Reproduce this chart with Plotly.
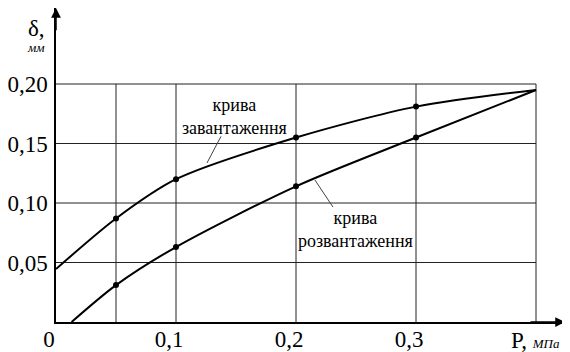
import plotly.graph_objects as go

# Data
load_p = [0.0, 0.05, 0.1, 0.2, 0.3, 0.4]
load_d = [0.0445, 0.087, 0.120, 0.155, 0.181, 0.195]
unload_p = [0.013, 0.05, 0.1, 0.2, 0.3, 0.4]
unload_d = [0.0, 0.031, 0.063, 0.114, 0.155, 0.195]
marker_p = [0.05, 0.1, 0.2, 0.3]
load_marker_d = [0.087, 0.120, 0.155, 0.181]
unload_marker_d = [0.031, 0.063, 0.114, 0.155]

x_grid = [0.05, 0.1, 0.2, 0.3, 0.4]
y_grid = [0.05, 0.10, 0.15, 0.20]
x_tickvals = [0, 0.1, 0.2, 0.3]
x_ticktext = ["0", "0,1", "0,2", "0,3"]
y_tickvals = [0.05, 0.10, 0.15, 0.20]
y_ticktext = ["0,05", "0,10", "0,15", "0,20"]

FONT = "'Liberation Serif', 'DejaVu Serif', serif"

# page body has an 8px margin, so the figure is offset by (8, 8)
OFF = 8
W, H = 570 - OFF, 352 - OFF
ML, MR, MT, MB = 48, 5, 0, 30
PW, PH = W - ML - MR, H - MT - MB
XMAX = 0.4 * PW / 480
YMAX = 0.2 * PH / 238


def px(sx):
    return (sx - OFF - ML) / PW


def py(sy):
    return (H - MB - (sy - OFF)) / PH


fig = go.Figure()
for xs, ys in [(load_p, load_d), (unload_p, unload_d)]:
    fig.add_trace(go.Scatter(x=xs, y=ys, mode="lines",
                             line=dict(color="black", width=2, shape="spline", smoothing=0.8),
                             hoverinfo="skip", showlegend=False))
for ys in [load_marker_d, unload_marker_d]:
    fig.add_trace(go.Scatter(x=marker_p, y=ys, mode="markers",
                             marker=dict(color="black", size=6),
                             hoverinfo="skip", showlegend=False))

shapes = []
for gx in x_grid:
    shapes.append(dict(type="line", xref="x", yref="y", x0=gx, x1=gx, y0=0, y1=max(y_grid),
                       line=dict(color="#222", width=1), layer="below"))
for gy in y_grid:
    shapes.append(dict(type="line", xref="x", yref="y", x0=0, x1=max(x_grid), y0=gy, y1=gy,
                       line=dict(color="#222", width=1), layer="below"))
# leader lines for the curve labels
shapes.append(dict(type="line", xref="x", yref="y", x0=0.1375, y0=0.156, x1=0.1258, y1=0.1336,
                   line=dict(color="#444", width=1)))
shapes.append(dict(type="line", xref="x", yref="y", x0=0.2158, y0=0.1193, x1=0.2308, y1=0.0966,
                   line=dict(color="#444", width=1)))


def label(sx, sy, text, size, xanchor="center"):
    return dict(x=px(sx), y=py(sy), xref="paper", yref="paper", xanchor=xanchor,
                yanchor="middle", text=text, showarrow=False, align="center",
                font=dict(family=FONT, size=size, color="black"))


annotations = [
    # axis arrowheads
    dict(x=XMAX, y=0, ax=XMAX - 0.03, ay=0, xref="x", yref="y", axref="x", ayref="y",
         showarrow=True, arrowhead=2, arrowsize=1.3, arrowwidth=1.5, arrowcolor="black", text=""),
    dict(x=0, y=YMAX, ax=0, ay=YMAX - 0.02, xref="x", yref="y", axref="x", ayref="y",
         showarrow=True, arrowhead=2, arrowsize=1.3, arrowwidth=1.5, arrowcolor="black", text=""),
    label(234, 116, "крива<br>завантаження", 18),
    label(355, 229, "крива<br>розвантаження", 18),
    label(36, 29, "δ,", 23),
    label(36, 48, "<i>мм</i>", 13),
    label(509, 340, "P, <i><span style='font-size:13px'>МПа</span></i>", 23, xanchor="left"),
]

fig.update_layout(
    width=W, height=H,
    margin=dict(l=ML, r=MR, t=MT, b=MB, autoexpand=False),
    paper_bgcolor="white", plot_bgcolor="white",
    font=dict(family=FONT, color="black"),
    shapes=shapes, annotations=annotations,
    xaxis=dict(range=[0, XMAX], showgrid=False, zeroline=False, showline=True, automargin=False,
               linecolor="black", linewidth=1.5, tickvals=x_tickvals, ticktext=x_ticktext,
               ticks="", ticklabelshift=-7, ticklabelstandoff=-4,
               tickfont=dict(family=FONT, size=23, color="black")),
    yaxis=dict(range=[0, YMAX], showgrid=False, zeroline=False, showline=True, automargin=False,
               linecolor="black", linewidth=1.5, tickvals=y_tickvals, ticktext=y_ticktext,
               ticks="", ticklabelstandoff=2,
               tickfont=dict(family=FONT, size=23, color="black")),
)

fig.write_html("out.html")
